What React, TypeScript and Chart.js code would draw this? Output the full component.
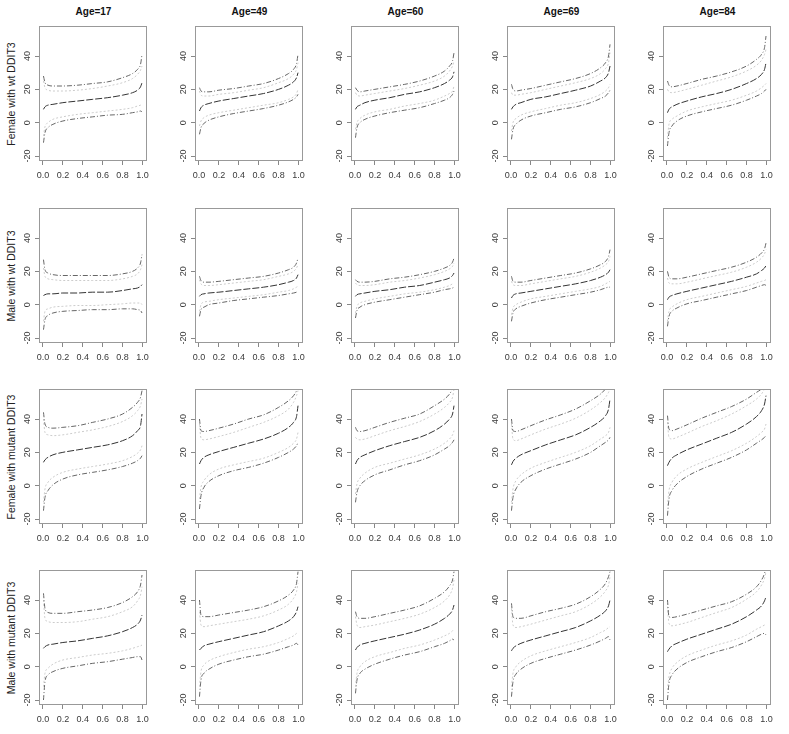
import React, { useEffect, useRef } from "react";
import { Chart, registerables } from "chart.js";

Chart.register(...registerables);

// ---------- data ----------
const QUANTILES = [0.005, 0.02, 0.05, 0.1, 0.2, 0.35, 0.5, 0.65, 0.8, 0.9, 0.95, 0.98, 0.995];
const AGES = ["Age=17", "Age=49", "Age=60", "Age=69", "Age=84"];
const GROUPS = [
  "Female with wt DDIT3",
  "Male with wt DDIT3",
  "Female with mutant DDIT3",
  "Male with mutant DDIT3",
];
const X_TICKS = [0, 0.2, 0.4, 0.6, 0.8, 1.0];
const Y_TICKS = [-20, 0, 20, 40];

// Female with wt DDIT3 (ages 17, 49, 60, 69, 84)
const FEMALE_WT_CENTER = [
  [8, 9.5, 10.5, 11, 12, 13, 14, 15, 16.5, 18, 19.5, 21.5, 24],
  [7, 9, 10.5, 11.5, 13, 14.5, 16, 17.5, 20, 22.5, 24.5, 27, 30],
  [8, 9.5, 10.5, 12, 13.5, 15, 17, 18.5, 21, 23.5, 25.5, 27.5, 30.5],
  [8, 9.5, 11, 12, 14, 15.5, 17.5, 19.5, 22, 25, 27, 30, 34],
  [6, 8, 9.5, 11, 13, 15.5, 17.5, 20, 23.5, 26.5, 29, 32, 36],
];
const FEMALE_WT_OUTER_UP = [
  [28, 24, 22.5, 22, 22, 22.5, 23.5, 24.5, 27, 29.5, 32, 35, 41],
  [21, 19, 18.5, 18.5, 19.5, 20.5, 22, 23.5, 26.5, 29.5, 32, 35.5, 41],
  [21, 19.5, 18.5, 19, 20, 21.5, 23, 25, 28, 31, 34, 37, 42],
  [23, 20, 19, 19.5, 20.5, 22.5, 24.5, 26.5, 29.5, 33, 36, 40, 47],
  [25, 22.5, 21.5, 22, 23.5, 26, 28, 30.5, 34, 38, 41, 45, 52],
];
const FEMALE_WT_INNER_UP = [
  [25, 21, 19.5, 19, 19, 19.5, 20.5, 22, 24, 26.5, 29, 31.5, 34],
  [19, 16.5, 16, 16, 17, 18, 19.5, 21, 24, 26.5, 29, 32, 36],
  [18, 16.5, 16, 16.5, 17.5, 19, 20.5, 22.5, 25, 28, 31, 34, 37],
  [18, 16.5, 16.5, 17, 18, 20, 22, 24, 26.5, 29.5, 32.5, 36, 42],
  [20, 18.5, 18, 18.5, 20, 22.5, 25, 27.5, 31, 34.5, 37.5, 41, 44],
];
const FEMALE_WT_INNER_LO = [
  [-8, -2.5, 0, 2, 3.5, 5, 6, 7, 8, 9, 10, 10.5, 11],
  [-2, 1, 3, 4.5, 6, 7.5, 9, 10.5, 12, 14, 15.5, 17.5, 20],
  [-4, 0, 2.5, 4.5, 6.5, 8, 10, 11.5, 13.5, 16, 17.5, 19, 22],
  [-5, 0, 2.5, 4.5, 6.5, 8.5, 10.5, 12, 14.5, 17, 19, 21, 23],
  [-9, -1, 2, 4, 7, 9.5, 11.5, 13.5, 16.5, 19, 21, 22.5, 23.5],
];
const FEMALE_WT_OUTER_LO = [
  [-12, -6, -3, -1, 1, 2.5, 3.5, 4.5, 5, 6, 6.5, 7, 6.5],
  [-7, -3, -0.5, 1.5, 3.5, 5.5, 7, 8.5, 10.5, 12.5, 14, 15.5, 17],
  [-9, -3, 0, 2, 4, 6, 7.5, 9, 11.5, 13.5, 15, 17, 19],
  [-10, -4, -1, 1.5, 4, 6, 8, 9.5, 12, 14.5, 16, 18, 19.5],
  [-14, -6, -2, 1, 4, 6.5, 8.5, 10.5, 13.5, 16, 17.5, 19, 20],
];

// Male with wt DDIT3
const MALE_WT_CENTER = [
  [5.5, 6, 6.5, 6.5, 7, 7, 7.5, 7.5, 8.5, 9.5, 10, 11, 12],
  [5, 6, 6.5, 7, 7.5, 8.5, 9.5, 10.5, 12, 13.5, 14.5, 16, 18],
  [5, 6, 6.5, 7, 8, 9, 10.5, 11.5, 13.5, 15, 16, 17.5, 19],
  [4, 5.5, 6.5, 7, 8, 9.5, 11, 12.5, 14.5, 16.5, 18, 19.5, 21],
  [3, 4.5, 5.5, 6.5, 8, 10, 12, 14, 16.5, 18.5, 20.5, 22, 23.5],
];
const MALE_WT_OUTER_UP = [
  [27, 21, 19, 18, 17.5, 17.5, 17.5, 17.5, 18.5, 20, 22, 25, 30],
  [17, 14.5, 13.5, 13.5, 14, 15, 16, 17, 19, 21, 22.5, 25, 28],
  [15, 14, 13.5, 13.5, 14, 15.5, 16.5, 18, 20, 22, 23.5, 25.5, 28],
  [17, 14, 13.5, 13.5, 14.5, 16, 17.5, 19, 21.5, 24, 26, 29, 33],
  [20, 16.5, 15.5, 15.5, 16.5, 18.5, 20.5, 22.5, 25.5, 28.5, 31, 33.5, 37],
];
const MALE_WT_INNER_UP = [
  [22, 17, 15.5, 15, 14.5, 14.5, 14.5, 14.5, 15.5, 17, 18.5, 21, 24],
  [15, 12.5, 11.5, 11.5, 12, 13, 14, 15, 17, 18.5, 20, 22, 24],
  [13, 12, 11.5, 11.5, 12, 13.5, 14.5, 16, 18, 20, 21.5, 23, 25],
  [14, 12, 11.5, 11.5, 12.5, 14, 15.5, 17, 19.5, 22, 24, 26, 29],
  [16, 13, 12.5, 12.5, 13.5, 15.5, 17.5, 19.5, 22.5, 25.5, 28, 30.5, 33],
];
const MALE_WT_INNER_LO = [
  [-10, -4, -2.5, -1.5, -1, -0.5, -0.5, 0, 0.5, 1, 1, 1, 0],
  [-4, 0, 1.5, 2, 3, 4, 5, 6, 7.5, 8.5, 9.5, 10.5, 11],
  [-5, -1, 1, 2, 3.5, 5, 6.5, 7.5, 9, 10.5, 11.5, 12.5, 13],
  [-6, -2, 0, 1.5, 3.5, 5, 6.5, 8, 9.5, 11, 12.5, 13.5, 14],
  [-10, -4, -1.5, 0.5, 3, 5, 7, 9, 11, 13, 14, 14.5, 15],
];
const MALE_WT_OUTER_LO = [
  [-15, -9, -6.5, -5, -4, -3.5, -3, -3, -2.5, -2.5, -3, -3.5, -5],
  [-7, -3, -1.5, 0, 1, 2.5, 3.5, 4.5, 5.5, 6.5, 7, 7.5, 8],
  [-8, -3.5, -1.5, 0, 1.5, 3, 4.5, 6, 7.5, 9, 9.5, 10, 10.5],
  [-10, -5, -2.5, -1, 1, 3, 4.5, 6, 7.5, 9, 10, 10.5, 10.5],
  [-13, -7, -4, -2, 0.5, 2.5, 4.5, 6.5, 8.5, 10.5, 11.5, 12, 11.5],
];

// Female with mutant DDIT3
const FEMALE_MUT_CENTER = [
  [14, 15.5, 17, 18.5, 20, 21.5, 23, 24.5, 27, 30, 33, 36, 43],
  [13, 15, 17, 18.5, 20.5, 23, 25.5, 28, 31.5, 35, 38, 41.5, 48],
  [13, 15, 17, 18.5, 21, 24, 26.5, 29, 33, 37, 40, 43, 48],
  [12.5, 14.5, 16.5, 18.5, 21, 24.5, 27.5, 30.5, 35, 39, 42, 46, 52],
  [12, 14, 16.5, 18.5, 21.5, 25, 28.5, 32, 37, 41.5, 45, 49, 54],
];
const FEMALE_MUT_OUTER_UP = [
  [44, 37, 35, 34.5, 35, 36, 38, 40, 43, 47, 50, 53, 57],
  [40, 33, 32.5, 33, 34.5, 37, 40, 42.5, 47, 51, 54, 57, 60],
  [35, 33, 32.5, 33, 35, 38, 40.5, 43, 48, 52, 55, 58, 60],
  [40, 33, 32.5, 33.5, 36, 39.5, 42.5, 46, 51, 55, 58, 60, 62],
  [42, 34, 33, 34, 36.5, 40.5, 44, 47.5, 52, 56, 58, 60, 62],
];
const FEMALE_MUT_INNER_UP = [
  [40, 32, 30.5, 30, 30.5, 32, 33.5, 35.5, 38.5, 42, 45, 48, 52],
  [37, 28.5, 27.5, 28, 29.5, 32, 35, 38, 42, 46, 50, 54, 57],
  [29, 28, 27.5, 28, 30, 33, 35.5, 38.5, 43, 47, 50, 53, 58],
  [37, 28, 27, 28, 30.5, 34, 37, 40.5, 45.5, 50, 53, 56, 58],
  [38, 29, 28, 29, 31.5, 35.5, 39, 43, 48, 52, 55, 58, 60],
];
const FEMALE_MUT_INNER_LO = [
  [-10, -2, 2, 5, 8, 10, 11.5, 13, 15, 17.5, 19.5, 21.5, 24],
  [-8, -1, 3, 6.5, 10, 12.5, 14.5, 16.5, 20, 23, 25.5, 28, 32],
  [-5, 1, 4.5, 7.5, 11, 13.5, 16, 18.5, 22, 25.5, 28, 30.5, 33],
  [-10, -2, 3, 6.5, 10.5, 14, 17, 20, 24, 28, 30, 32, 35],
  [-12, -3, 2, 6, 10, 14, 17.5, 21, 25.5, 29.5, 32, 34, 37],
];
const FEMALE_MUT_OUTER_LO = [
  [-15, -7, -3, 0.5, 4, 6.5, 8, 9.5, 11.5, 13.5, 15, 16.5, 18],
  [-14, -6, -1, 2.5, 6, 9, 11, 13.5, 17, 20, 22, 24, 26],
  [-10, -4, 0, 3, 6.5, 9.5, 12.5, 15, 18.5, 22, 24, 26, 27.5],
  [-15, -7, -2, 2, 6, 10, 13, 16, 20, 24, 26, 27.5, 29],
  [-18, -8, -3, 1, 5.5, 10, 13.5, 17, 21.5, 25.5, 27.5, 29, 30],
];

// Male with mutant DDIT3
const MALE_MUT_CENTER = [
  [11, 12, 13, 13.5, 14.5, 15.5, 17, 18.5, 21, 23.5, 25.5, 28, 31],
  [10, 11, 12.5, 13.5, 15, 17, 19, 21, 24.5, 27.5, 30, 33, 36],
  [10, 11.5, 13, 14, 15.5, 17.5, 19.5, 22, 25.5, 29, 31.5, 34, 37],
  [9.5, 11, 12.5, 14, 16, 18.5, 21, 23.5, 27.5, 31, 33.5, 36.5, 40],
  [9, 10.5, 12.5, 14, 16.5, 19.5, 22.5, 25.5, 30, 34, 36.5, 39.5, 42],
];
const MALE_MUT_OUTER_UP = [
  [44, 35, 32.5, 32, 32, 33, 34, 35.5, 38.5, 42, 45, 49, 55],
  [40, 31, 30, 30, 31, 32.5, 34, 36, 39.5, 43, 46, 50, 57],
  [33, 30, 29, 29, 30, 32, 34, 36.5, 41, 45, 48.5, 52, 57],
  [38, 30, 29, 29, 30.5, 33, 35, 37.5, 42, 46.5, 50, 54, 57],
  [40, 30, 29.5, 30, 31.5, 34, 36.5, 39, 43.5, 48, 52, 56, 60],
];
const MALE_MUT_INNER_UP = [
  [40, 29, 27, 26.5, 26.5, 27, 28.5, 30, 33, 36, 39.5, 43, 48],
  [33, 25, 24, 24.5, 25.5, 27, 28.5, 30.5, 34, 37.5, 41, 45, 50],
  [30, 25, 23.5, 24, 25, 27, 29, 31.5, 35.5, 39.5, 43, 47, 52],
  [35, 25, 23.5, 24, 25.5, 28, 30.5, 33, 37.5, 42, 45.5, 49, 54],
  [36, 26, 24.5, 25, 26.5, 29.5, 32.5, 35.5, 40.5, 45, 49, 53, 57],
];
const MALE_MUT_INNER_LO = [
  [-12, -4, -1, 1.5, 4, 5.5, 7, 8, 9.5, 11, 12, 12.5, 13],
  [-12, -3, 1, 3.5, 6, 8.5, 10.5, 12, 14.5, 17, 18.5, 20, 21],
  [-12, -4, 0, 3, 6, 8.5, 11, 13, 16, 18.5, 20, 21.5, 22.5],
  [-12, -4, 0, 3, 6.5, 9.5, 12, 14.5, 17.5, 20.5, 22, 23.5, 24],
  [-14, -6, -1, 2.5, 6.5, 10, 13, 15.5, 19, 22.5, 24, 25, 25.5],
];
const MALE_MUT_OUTER_LO = [
  [-20, -9, -5, -3, -1, 0.5, 2, 3, 4.5, 5.5, 6, 6, 4],
  [-18, -8, -4, -1.5, 1.5, 4, 6, 7.5, 10, 12, 13, 14, 13],
  [-16, -8, -4, -1.5, 1.5, 4.5, 7, 9, 12, 14, 15.5, 16.5, 16],
  [-18, -9, -4.5, -1.5, 2, 5, 7.5, 10, 13, 15.5, 17, 18, 16],
  [-20, -10, -5, -1.5, 2.5, 6, 9, 11.5, 15, 18, 19.5, 20, 19],
];

const ROW_SERIES = [
  [FEMALE_WT_OUTER_UP, FEMALE_WT_INNER_UP, FEMALE_WT_CENTER, FEMALE_WT_INNER_LO, FEMALE_WT_OUTER_LO],
  [MALE_WT_OUTER_UP, MALE_WT_INNER_UP, MALE_WT_CENTER, MALE_WT_INNER_LO, MALE_WT_OUTER_LO],
  [FEMALE_MUT_OUTER_UP, FEMALE_MUT_INNER_UP, FEMALE_MUT_CENTER, FEMALE_MUT_INNER_LO, FEMALE_MUT_OUTER_LO],
  [MALE_MUT_OUTER_UP, MALE_MUT_INNER_UP, MALE_MUT_CENTER, MALE_MUT_INNER_LO, MALE_MUT_OUTER_LO],
];

// ---------- layout / style ----------
const FRAME_LEFTS = [39, 195, 351, 507, 663];
const FRAME_TOPS = [26, 208, 389, 570];
const FRAME_W = 109;
const FRAME_H = 135;
const AXIS_W = 40;
const AXIS_H = 30;
const PAD_TOP = 8;
const PAD_RIGHT = 6;
const FONT = "'Liberation Sans', Arial, sans-serif";

const LINE_STYLES = [
  { color: "#666666", dash: [5, 2, 1, 2] },
  { color: "#cccccc", dash: [2, 2] },
  { color: "#333333", dash: [7, 2] },
  { color: "#cccccc", dash: [2, 2] },
  { color: "#666666", dash: [5, 2, 1, 2] },
];

const framePlugin = {
  id: "frame",
  afterDatasetsDraw(chart: any) {
    const { ctx, chartArea } = chart;
    ctx.save();
    ctx.strokeStyle = "#999999";
    ctx.lineWidth = 1;
    ctx.strokeRect(
      Math.round(chartArea.left) + 0.5,
      Math.round(chartArea.top) + 0.5,
      Math.round(chartArea.width) - 1,
      Math.round(chartArea.height) - 1
    );
    ctx.restore();
  },
};

function Panel({ row, col }: { row: number; col: number }) {
  const ref = useRef<HTMLCanvasElement>(null);
  useEffect(() => {
    if (!ref.current) return;
    const series = ROW_SERIES[row];
    const datasets = series.map((lines, i) => ({
      data: QUANTILES.map((q, k) => ({ x: q, y: lines[col][k] })),
      borderColor: LINE_STYLES[i].color,
      borderDash: LINE_STYLES[i].dash,
      borderWidth: 1,
      pointRadius: 0,
      fill: false,
      tension: 0.4,
      cubicInterpolationMode: "monotone" as const,
    }));
    const tickFont = { family: FONT, size: 9 };
    const chart = new Chart(ref.current, {
      type: "line",
      data: { datasets },
      options: {
        animation: false,
        responsive: false,
        maintainAspectRatio: false,
        events: [],
        layout: { padding: { left: 0, top: PAD_TOP, right: PAD_RIGHT, bottom: 0 } },
        plugins: {
          legend: { display: false },
          tooltip: { enabled: false },
          title: { display: false },
        },
        scales: {
          x: {
            type: "linear",
            min: -0.04,
            max: 1.04,
            afterBuildTicks: (s: any) => {
              s.ticks = X_TICKS.map((v) => ({ value: v }));
            },
            afterFit: (s: any) => {
              s.height = AXIS_H;
            },
            grid: { drawOnChartArea: false, drawTicks: true, tickLength: 4, color: "#888888" },
            border: { display: false },
            ticks: {
              autoSkip: false,
              maxRotation: 0,
              minRotation: 0,
              padding: 5,
              color: "#3a3a3a",
              font: tickFont,
              callback: (v: any) => Number(v).toFixed(1),
            },
          },
          y: {
            type: "linear",
            min: -23,
            max: 58,
            afterBuildTicks: (s: any) => {
              s.ticks = Y_TICKS.map((v) => ({ value: v }));
            },
            afterFit: (s: any) => {
              s.width = AXIS_W;
            },
            grid: { drawOnChartArea: false, drawTicks: true, tickLength: 4, color: "#888888" },
            border: { display: false },
            ticks: {
              autoSkip: false,
              minRotation: 90,
              maxRotation: 90,
              crossAlign: "center",
              padding: 1,
              color: "#3a3a3a",
              font: tickFont,
              callback: (v: any) => String(v),
            },
          },
        },
      } as any,
      plugins: [framePlugin],
    });
    return () => chart.destroy();
  }, [row, col]);

  const w = AXIS_W + FRAME_W + PAD_RIGHT;
  const h = PAD_TOP + FRAME_H + AXIS_H;
  return (
    <canvas
      ref={ref}
      width={w}
      height={h}
      style={{
        position: "absolute",
        left: FRAME_LEFTS[col] - AXIS_W,
        top: FRAME_TOPS[row] - PAD_TOP,
        width: w,
        height: h,
      }}
    />
  );
}

export default function App() {
  return (
    <div
      style={{
        position: "fixed",
        left: 0,
        top: 0,
        width: 789,
        height: 734,
        background: "#fff",
        overflow: "hidden",
        fontFamily: FONT,
      }}
    >
      {AGES.map((a, c) => (
        <div
          key={a}
          style={{
            position: "absolute",
            left: FRAME_LEFTS[c] + FRAME_W / 2,
            top: 11,
            transform: "translate(-50%, -50%)",
            fontWeight: "bold",
            fontSize: 10,
            color: "#111",
            whiteSpace: "nowrap",
          }}
        >
          {a}
        </div>
      ))}
      {GROUPS.map((g, r) => (
        <div
          key={g}
          style={{
            position: "absolute",
            left: 11,
            top: FRAME_TOPS[r] + FRAME_H / 2,
            transform: "translate(-50%, -50%) rotate(-90deg)",
            fontSize: 10.5,
            color: "#222",
            whiteSpace: "nowrap",
          }}
        >
          {g}
        </div>
      ))}
      {GROUPS.map((g, r) =>
        AGES.map((a, c) => <Panel key={`${r}-${c}`} row={r} col={c} />)
      )}
    </div>
  );
}
